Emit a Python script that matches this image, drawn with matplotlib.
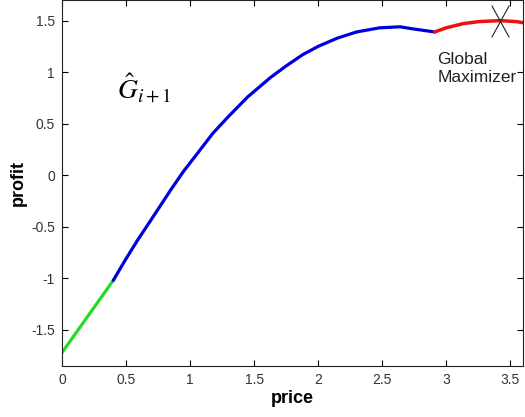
import numpy as np
import matplotlib
matplotlib.use("Agg")
import matplotlib.pyplot as plt
from matplotlib.path import Path

# curve pieces
green_x = [0.0, 0.2, 0.4]
green_y = [-1.72, -1.37, -1.02]

blue_x = [0.40, 0.50, 0.59, 0.75, 0.85, 0.95, 1.05, 1.18, 1.30, 1.45,
          1.63, 1.75, 1.88, 2.00, 2.15, 2.30, 2.48, 2.64, 2.74, 2.91]
blue_y = [-1.02, -0.81, -0.63, -0.33, -0.14, 0.04, 0.20, 0.41, 0.57, 0.76,
          0.95, 1.06, 1.17, 1.25, 1.33, 1.39, 1.43, 1.44, 1.42, 1.39]

red_x = [2.91, 3.0, 3.13, 3.25, 3.42, 3.55, 3.7]
red_y = [1.39, 1.43, 1.47, 1.49, 1.50, 1.49, 1.46]

max_x, max_y = 3.42, 1.50

xticks = [0, 0.5, 1, 1.5, 2, 2.5, 3, 3.5]
yticks = [-1.5, -1, -0.5, 0, 0.5, 1, 1.5]

plt.rcParams['font.family'] = ['Liberation Sans', 'DejaVu Sans']

fig = plt.figure(figsize=(5.25, 4.17), dpi=100)
ax = fig.add_axes([62 / 525, 51 / 417, 461 / 525, 366 / 417])

ax.plot(green_x, green_y, color='#22dd22', lw=2.3, solid_capstyle='round')
ax.plot(blue_x, blue_y, color='#0000dd', lw=2.3, solid_capstyle='round',
        solid_joinstyle='round')
ax.plot(red_x, red_y, color='#ee1111', lw=2.5, solid_capstyle='round',
        solid_joinstyle='round')

# tall thin cross marking the maximiser
cross = Path([(-0.55, 1), (0.55, -1), (0.55, 1), (-0.55, -1)],
             [Path.MOVETO, Path.LINETO, Path.MOVETO, Path.LINETO])
ax.plot([max_x], [max_y], marker=cross, ms=23, mec='#222222', mew=0.8,
        color='none')

ax.text(2.93, 1.20, 'Global\nMaximizer', fontsize=12.5, color='#222222',
        va='top', ha='left', linespacing=1.25)
ax.text(0.43, 0.85, r'$\hat{G}_{i+1}$', fontsize=20, color='black',
        va='center', ha='left', math_fontfamily='stix')

ax.set_xlim(0, 3.6)
ax.set_ylim(-1.85, 1.7)
ax.set_xticks(xticks)
ax.set_xticklabels(['0', '0.5', '1', '1.5', '2', '2.5', '3', '3.5'])
ax.set_yticks(yticks)
ax.set_yticklabels(['-1.5', '-1', '-0.5', '0', '0.5', '1', '1.5'])
ax.tick_params(direction='in', top=True, right=True, labelsize=10,
               labelcolor='#333333', length=4, width=0.8, pad=5)
for s in ax.spines.values():
    s.set_linewidth(0.8)
    s.set_color('#222222')

ax.set_xlabel('price', fontsize=13, fontweight='bold', labelpad=2)
ax.set_ylabel('profit', fontsize=13, fontweight='bold', labelpad=3)

fig.savefig('out.png', dpi=100)
